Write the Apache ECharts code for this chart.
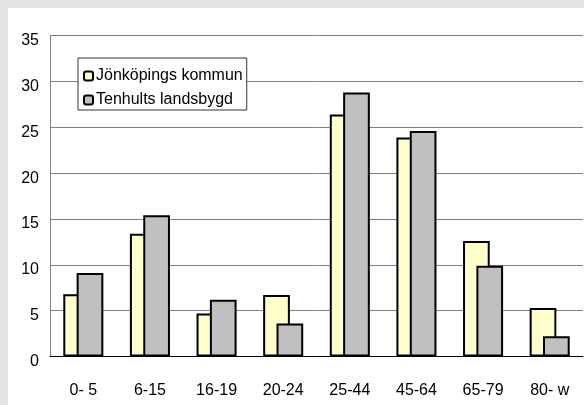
<!DOCTYPE html>
<html>
<head>
<meta charset="utf-8">
<script src="https://cdn.jsdelivr.net/npm/echarts@6/dist/echarts.min.js"></script>
<style>
html,body{margin:0;padding:0;background:#e3e3e3;width:584px;height:405px;overflow:hidden;}
#chart{position:absolute;left:8px;top:8px;width:576px;height:397px;background:#ffffff;}
</style>
</head>
<body>
<div id="chart"></div>
<script>
const categories = ["0- 5", "6-15", "16-19", "20-24", "25-44", "45-64", "65-79", "80- w"];
const jonkoping = [6.8, 13.4, 4.7, 6.7, 26.4, 23.9, 12.6, 5.3];
const tenhult = [9.1, 15.4, 6.2, 3.6, 28.8, 24.6, 9.9, 2.2];
const seriesNames = ["Jönköpings kommun", "Tenhults landsbygd"];

const chart = echarts.init(document.getElementById('chart'), null, {renderer: 'canvas'});
const font = 'Liberation Sans, Arial, sans-serif';
chart.setOption({
  animation: false,
  backgroundColor: '#ffffff',
  textStyle: {fontFamily: font},
  grid: {left: 42, top: 27.7, right: 1, bottom: 48.5, containLabel: false},
  legend: {
    orient: 'vertical',
    left: 70, top: 50,
    padding: [10, 4, 2, 5],
    itemGap: 8,
    itemWidth: 9, itemHeight: 9,
    icon: 'roundRect',
    borderColor: '#333333', borderWidth: 1,
    backgroundColor: '#ffffff',
    textStyle: {fontSize: 16, color: '#000', fontFamily: font, padding: [0,0,0,-2]},
    data: seriesNames
  },
  xAxis: {
    type: 'category',
    data: categories,
    axisLine: {lineStyle: {color: '#000', width: 1}},
    axisTick: {show: false},
    axisLabel: {fontSize: 16, color: '#000', margin: 26, fontFamily: font},
    splitLine: {show: false}
  },
  yAxis: {
    type: 'value',
    min: 0, max: 35, interval: 5,
    axisLine: {show: true, lineStyle: {color: '#808080', width: 1}},
    axisTick: {show: false},
    axisLabel: {
      fontSize: 16, color: '#000', margin: 11, fontFamily: font,
      formatter: '{v|{value}}',
      rich: {v: {fontSize: 16, color: '#000', fontFamily: font, padding: [10, 0, 0, 0]}}
    },
    splitLine: {lineStyle: {color: '#808080', width: 1}}
  },
  series: [
    {
      name: seriesNames[0], type: 'bar', data: jonkoping,
      barWidth: 26.7, barGap: '-50%',
      itemStyle: {color: '#FFFFCC', borderColor: '#000', borderWidth: 2}
    },
    {
      name: seriesNames[1], type: 'bar', data: tenhult,
      barWidth: 26.7, barGap: '-50%',
      itemStyle: {color: '#C0C0C0', borderColor: '#000', borderWidth: 2}
    }
  ]
});
</script>
</body>
</html>
